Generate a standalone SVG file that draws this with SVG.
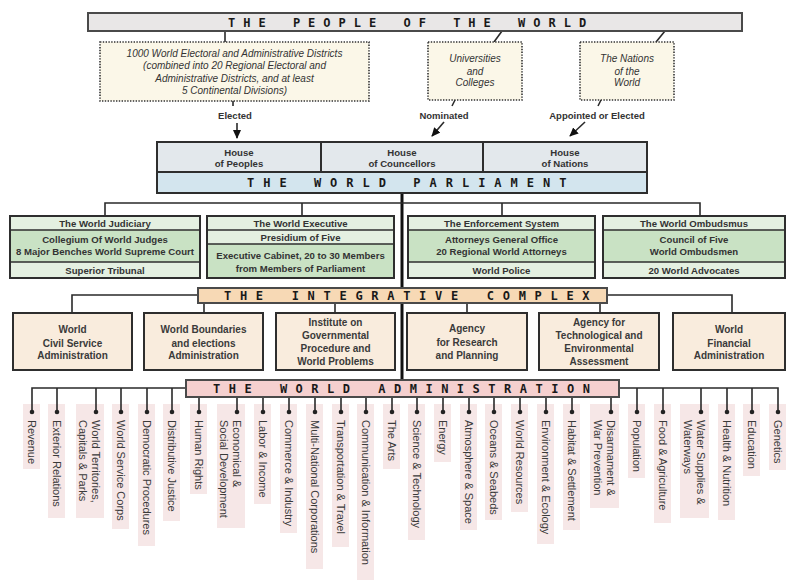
<svg xmlns="http://www.w3.org/2000/svg" width="788" height="580" viewBox="0 0 788 580">
<style>
.bar{stroke:#4a4a4a;stroke-width:2}
.bt{font-family:"DejaVu Sans Mono",monospace;font-weight:bold;font-size:12px;fill:#1a1a1a;letter-spacing:8px;word-spacing:4px}
.dot{fill:#fbf7e8;stroke:#333;stroke-width:1.6;stroke-dasharray:1.4 1.4}
.it{font-family:"Liberation Sans",Arial,sans-serif;font-style:italic;font-size:10px;fill:#333;text-anchor:middle}
.lab{font-family:"Liberation Sans",Arial,sans-serif;font-weight:bold;font-size:9.5px;fill:#333;text-anchor:middle}
.box{stroke:#2e2e2e;stroke-width:2;fill:none}
.bx{font-family:"Liberation Sans",Arial,sans-serif;font-weight:bold;font-size:9.6px;fill:#333;text-anchor:middle}
.ix{font-family:"Liberation Sans",Arial,sans-serif;font-weight:bold;font-size:10px;fill:#3a3a3a;text-anchor:middle}
.ln{stroke:#2a2a2a;stroke-width:1.6;fill:none}
.sep{stroke:#2e2e2e;stroke-width:1.3}
.gl{fill:#e4f0e1}
.gd{fill:#c9e2c4}
.ib{fill:#f9ecdd}
.item{font-family:"Liberation Sans",Arial,sans-serif;font-size:11px;fill:#3a3a3a}
.ibg{fill:#f6e7e7}
.dt{fill:#222}
</style>
<defs>
<marker id="ah" viewBox="0 0 10 10" refX="9" refY="5" markerWidth="9" markerHeight="9" markerUnits="userSpaceOnUse" orient="auto"><path d="M0,0.5 L10,5 L0,9.5 z" fill="#111"/></marker>
</defs>
<rect width="788" height="580" fill="#fff"/>

<!-- item backgrounds -->
<g id="item-backgrounds" class="ibg">
<rect x="23" y="404" width="17" height="65"/>
<rect x="48" y="404" width="17" height="114"/>
<rect x="76" y="404" width="28" height="114"/>
<rect x="112" y="404" width="17" height="125"/>
<rect x="138" y="404" width="17" height="142"/>
<rect x="163" y="404" width="17" height="117"/>
<rect x="190" y="404" width="17" height="90"/>
<rect x="217" y="404" width="28" height="124"/>
<rect x="254" y="404" width="17" height="100"/>
<rect x="280" y="404" width="17" height="129"/>
<rect x="306" y="404" width="17" height="165"/>
<rect x="332" y="404" width="17" height="143"/>
<rect x="357" y="404" width="17" height="176"/>
<rect x="383" y="404" width="17" height="65"/>
<rect x="408" y="404" width="17" height="136"/>
<rect x="434" y="404" width="17" height="58"/>
<rect x="460" y="404" width="17" height="126"/>
<rect x="485" y="404" width="17" height="116"/>
<rect x="511" y="404" width="17" height="108"/>
<rect x="537" y="404" width="17" height="140"/>
<rect x="563" y="404" width="17" height="126"/>
<rect x="590" y="404" width="29" height="104"/>
<rect x="628" y="404" width="17" height="74"/>
<rect x="654" y="404" width="17" height="119"/>
<rect x="680" y="404" width="29" height="114"/>
<rect x="718" y="404" width="17" height="116"/>
<rect x="743" y="404" width="17" height="72"/>
<rect x="769" y="404" width="17" height="66"/>
</g>

<g id="connectors">
<line x1="402" y1="193" x2="402" y2="381" stroke="#111" stroke-width="3"/>
<line class="ln" x1="225" y1="31" x2="225" y2="42"/>
<line class="ln" x1="502" y1="31" x2="494" y2="42"/>
<line class="ln" x1="665" y1="31" x2="656" y2="42"/>
<line class="ln" x1="233" y1="101" x2="233" y2="106"/>
<line class="ln" x1="455" y1="100" x2="452" y2="106"/>
<line class="ln" x1="601" y1="100" x2="598" y2="106"/>
<line class="ln" stroke-width="2" x1="237" y1="123" x2="237" y2="138" marker-end="url(#ah)"/>
<line class="ln" stroke-width="2" x1="444" y1="122" x2="432" y2="136" marker-end="url(#ah)"/>
<line class="ln" stroke-width="2" x1="585" y1="122" x2="570" y2="136" marker-end="url(#ah)"/>
<path class="ln" d="M105,216 V203 H700 V216 M302,203 V216 M502,203 V216"/>
<path class="ln" d="M72,313 V295 H198 M607,295 H732 V313 M204,303 V313 M335,303 V313 M467,303 V313 M600,303 V313"/>
<path class="ln" d="M32,412 V388 H186 M619,388 H778 V412 M57,388 V412 M96,388 V412 M121,388 V412 M147,388 V412 M172,388 V412 M637,388 V412 M663,388 V412 M701,388 V412 M727,388 V412 M752,388 V412"/>
<path class="ln" d="M199,397 V412 M237,397 V412 M263,397 V412 M289,397 V412 M315,397 V412 M341,397 V412 M366,397 V412 M392,397 V412 M417,397 V412 M443,397 V412 M469,397 V412 M494,397 V412 M520,397 V412 M546,397 V412 M572,397 V412 M611,397 V412"/>
</g>

<g id="people-of-the-world">
<rect class="bar" x="88" y="13" width="654" height="18" fill="#e9e7e7"/>
<text class="bt" x="228" y="26.5">THE PEOPLE OF THE WORLD</text>
</g>

<g id="districts">
<rect class="dot" x="100" y="42" width="269" height="59"/>
<text class="it" x="234.5" y="56.5">1000 World Electoral and Administrative Districts</text>
<text class="it" x="234.5" y="69">(combined into 20 Regional Electoral and</text>
<text class="it" x="234.5" y="81.5">Administrative Districts, and at least</text>
<text class="it" x="234.5" y="93.5">5 Continental Divisions)</text>
</g>
<g id="universities">
<rect class="dot" x="428" y="42" width="94" height="58"/>
<text class="it" x="475" y="61.5">Universities</text>
<text class="it" x="475" y="74.5">and</text>
<text class="it" x="475" y="86">Colleges</text>
</g>
<g id="nations">
<rect class="dot" x="580" y="42" width="94" height="58"/>
<text class="it" x="627" y="61.5">The Nations</text>
<text class="it" x="627" y="74.5">of the</text>
<text class="it" x="627" y="86">World</text>
</g>
<g id="labels">
<text class="lab" x="235" y="118.5">Elected</text>
<text class="lab" x="444" y="118.5">Nominated</text>
<text class="lab" x="597" y="118.5">Appointed or Elected</text>
</g>

<g id="world-parliament">
<rect x="157" y="142" width="164" height="30" fill="#e3e8ec"/>
<rect x="321" y="142" width="162" height="30" fill="#e3e8ec"/>
<rect x="483" y="142" width="164" height="30" fill="#e3e8ec"/>
<rect x="157" y="172" width="490" height="21" fill="#d3e5ee"/>
<rect class="box" x="157" y="142" width="490" height="51"/>
<line class="box" x1="157" y1="172" x2="647" y2="172"/>
<line class="box" x1="321" y1="142" x2="321" y2="172"/>
<line class="box" x1="483" y1="142" x2="483" y2="172"/>
<text class="bx" x="239" y="155.5">House</text>
<text class="bx" x="239" y="167">of Peoples</text>
<text class="bx" x="402" y="155.5">House</text>
<text class="bx" x="402" y="167">of Councellors</text>
<text class="bx" x="565" y="155.5">House</text>
<text class="bx" x="565" y="167">of Nations</text>
<text class="bt" x="247" y="187" style="letter-spacing:9px;word-spacing:2px">THE WORLD PARLIAMENT</text>
</g>

<g id="judiciary">
<rect class="gl" x="10" y="216" width="190" height="14"/>
<rect class="gd" x="10" y="230" width="190" height="32"/>
<rect class="gl" x="10" y="262" width="190" height="16"/>
<rect class="box" x="10" y="216" width="190" height="62"/>
<line class="sep" x1="10" y1="230" x2="200" y2="230"/>
<line class="sep" x1="10" y1="262" x2="200" y2="262"/>
<text class="bx" x="105" y="226.5">The World Judiciary</text>
<text class="bx" x="105" y="242.5">Collegium Of World Judges</text>
<text class="bx" x="105" y="255">8 Major Benches World Supreme Court</text>
<text class="bx" x="105" y="273.5">Superior Tribunal</text>
</g>
<g id="executive">
<rect class="gl" x="207" y="216" width="187" height="28"/>
<rect class="gd" x="207" y="244" width="187" height="34"/>
<rect class="box" x="207" y="216" width="187" height="62"/>
<line class="sep" x1="207" y1="230" x2="394" y2="230"/>
<line class="sep" x1="207" y1="244" x2="394" y2="244"/>
<text class="bx" x="300.5" y="226.5">The World Executive</text>
<text class="bx" x="300.5" y="240.5">Presidium of Five</text>
<text class="bx" x="300.5" y="258.5">Executive Cabinet, 20 to 30 Members</text>
<text class="bx" x="300.5" y="271.5">from Members of Parliament</text>
</g>
<g id="enforcement">
<rect class="gl" x="408" y="216" width="187" height="14"/>
<rect class="gd" x="408" y="230" width="187" height="32"/>
<rect class="gl" x="408" y="262" width="187" height="16"/>
<rect class="box" x="408" y="216" width="187" height="62"/>
<line class="sep" x1="408" y1="230" x2="595" y2="230"/>
<line class="sep" x1="408" y1="262" x2="595" y2="262"/>
<text class="bx" x="501.5" y="226.5">The Enforcement System</text>
<text class="bx" x="501.5" y="242.5">Attorneys General Office</text>
<text class="bx" x="501.5" y="255">20 Regional World Attorneys</text>
<text class="bx" x="501.5" y="273.5">World Police</text>
</g>
<g id="ombudsmus">
<rect class="gl" x="603" y="216" width="182" height="14"/>
<rect class="gd" x="603" y="230" width="182" height="32"/>
<rect class="gl" x="603" y="262" width="182" height="16"/>
<rect class="box" x="603" y="216" width="182" height="62"/>
<line class="sep" x1="603" y1="230" x2="785" y2="230"/>
<line class="sep" x1="603" y1="262" x2="785" y2="262"/>
<text class="bx" x="694" y="226.5">The World Ombudsmus</text>
<text class="bx" x="694" y="242.5">Council of Five</text>
<text class="bx" x="694" y="255">World Ombudsmen</text>
<text class="bx" x="694" y="273.5">20 World Advocates</text>
</g>

<g id="integrative-complex">
<rect class="bar" x="198" y="288" width="409" height="15" fill="#f7d9b5" stroke="#333"/>
<text class="bt" x="224" y="300" style="letter-spacing:8.7px">THE INTEGRATIVE COMPLEX</text>
</g>
<g id="civil-service">
<rect class="box ib" x="13" y="313" width="119" height="57"/>
<text class="ix" x="72.5" y="332.5">World</text>
<text class="ix" x="72.5" y="346.5">Civil Service</text>
<text class="ix" x="72.5" y="359">Administration</text>
</g>
<g id="boundaries">
<rect class="box ib" x="144" y="313" width="119" height="57"/>
<text class="ix" x="203.5" y="332.5">World Boundaries</text>
<text class="ix" x="203.5" y="346.5">and elections</text>
<text class="ix" x="203.5" y="359">Administration</text>
</g>
<g id="institute">
<rect class="box ib" x="276" y="313" width="119" height="57"/>
<text class="ix" x="335.5" y="326">Institute on</text>
<text class="ix" x="335.5" y="338.5">Governmental</text>
<text class="ix" x="335.5" y="351.5">Procedure and</text>
<text class="ix" x="335.5" y="365">World Problems</text>
</g>
<g id="research">
<rect class="box ib" x="407" y="313" width="120" height="57"/>
<text class="ix" x="467" y="332">Agency</text>
<text class="ix" x="467" y="345.5">for Research</text>
<text class="ix" x="467" y="358.5">and Planning</text>
</g>
<g id="technological">
<rect class="box ib" x="539" y="313" width="120" height="57"/>
<text class="ix" x="599" y="326">Agency for</text>
<text class="ix" x="599" y="338.5">Technological and</text>
<text class="ix" x="599" y="351.5">Environmental</text>
<text class="ix" x="599" y="365">Assessment</text>
</g>
<g id="financial">
<rect class="box ib" x="673" y="313" width="112" height="57"/>
<text class="ix" x="729" y="332.5">World</text>
<text class="ix" x="729" y="346.5">Financial</text>
<text class="ix" x="729" y="359">Administration</text>
</g>

<g id="world-administration">
<rect class="bar" x="186" y="380" width="433" height="17" fill="#f5d0cf" stroke="#333"/>
<text class="bt" x="213" y="393" style="letter-spacing:8.5px">THE WORLD ADMINISTRATION</text>
</g>

<g id="admin-items">
<g class="dt">
<circle cx="32" cy="412" r="2.3"/><circle cx="57" cy="412" r="2.3"/><circle cx="96" cy="412" r="2.3"/><circle cx="121" cy="412" r="2.3"/><circle cx="147" cy="412" r="2.3"/><circle cx="172" cy="412" r="2.3"/><circle cx="199" cy="412" r="2.3"/><circle cx="237" cy="412" r="2.3"/><circle cx="263" cy="412" r="2.3"/><circle cx="289" cy="412" r="2.3"/><circle cx="315" cy="412" r="2.3"/><circle cx="341" cy="412" r="2.3"/><circle cx="366" cy="412" r="2.3"/><circle cx="392" cy="412" r="2.3"/><circle cx="417" cy="412" r="2.3"/><circle cx="443" cy="412" r="2.3"/><circle cx="469" cy="412" r="2.3"/><circle cx="494" cy="412" r="2.3"/><circle cx="520" cy="412" r="2.3"/><circle cx="546" cy="412" r="2.3"/><circle cx="572" cy="412" r="2.3"/><circle cx="611" cy="412" r="2.3"/><circle cx="637" cy="412" r="2.3"/><circle cx="663" cy="412" r="2.3"/><circle cx="701" cy="412" r="2.3"/><circle cx="727" cy="412" r="2.3"/><circle cx="752" cy="412" r="2.3"/><circle cx="778" cy="412" r="2.3"/>
</g>
<g id="revenue" transform="translate(32,420) rotate(90)"><text class="item" y="4">Revenue</text></g>
<g id="exterior" transform="translate(57,420) rotate(90)"><text class="item" y="4">Exterior Relations</text></g>
<g id="territories" transform="translate(96,420) rotate(90)"><text class="item" y="4">World Territories,</text><text class="item" y="17">Capitals &amp; Parks</text></g>
<g id="service-corps" transform="translate(121,420) rotate(90)"><text class="item" y="4">World Service Corps</text></g>
<g id="democratic" transform="translate(147,420) rotate(90)"><text class="item" y="4">Democratic Procedures</text></g>
<g id="distributive" transform="translate(172,420) rotate(90)"><text class="item" y="4">Distributive Justice</text></g>
<g id="human-rights" transform="translate(199,420) rotate(90)"><text class="item" y="4">Human Rights</text></g>
<g id="economical" transform="translate(237,420) rotate(90)"><text class="item" y="4">Economical &amp;</text><text class="item" y="17">Social Development</text></g>
<g id="labor" transform="translate(263,420) rotate(90)"><text class="item" y="4">Labor &amp; Income</text></g>
<g id="commerce" transform="translate(289,420) rotate(90)"><text class="item" y="4">Commerce &amp; Industry</text></g>
<g id="multinational" transform="translate(315,420) rotate(90)"><text class="item" y="4">Multi-National Corporations</text></g>
<g id="transportation" transform="translate(341,420) rotate(90)"><text class="item" y="4">Transportation &amp; Travel</text></g>
<g id="communication" transform="translate(366,420) rotate(90)"><text class="item" y="4">Communication &amp; Information</text></g>
<g id="arts" transform="translate(392,420) rotate(90)"><text class="item" y="4">The Arts</text></g>
<g id="science" transform="translate(417,420) rotate(90)"><text class="item" y="4">Science &amp; Technology</text></g>
<g id="energy" transform="translate(443,420) rotate(90)"><text class="item" y="4">Energy</text></g>
<g id="atmosphere" transform="translate(469,420) rotate(90)"><text class="item" y="4">Atmosphere &amp; Space</text></g>
<g id="oceans" transform="translate(494,420) rotate(90)"><text class="item" y="4">Oceans &amp; Seabeds</text></g>
<g id="resources" transform="translate(520,420) rotate(90)"><text class="item" y="4">World Resources</text></g>
<g id="environment" transform="translate(546,420) rotate(90)"><text class="item" y="4">Environment &amp; Ecology</text></g>
<g id="habitat" transform="translate(572,420) rotate(90)"><text class="item" y="4">Habitat &amp; Settlement</text></g>
<g id="disarmament" transform="translate(611,420) rotate(90)"><text class="item" y="4">Disarmament &amp;</text><text class="item" y="17">War Prevention</text></g>
<g id="population" transform="translate(637,420) rotate(90)"><text class="item" y="4">Population</text></g>
<g id="food" transform="translate(663,420) rotate(90)"><text class="item" y="4">Food &amp; Agriculture</text></g>
<g id="water" transform="translate(701,420) rotate(90)"><text class="item" y="4">Water Supplies &amp;</text><text class="item" y="17">Waterways</text></g>
<g id="health" transform="translate(727,420) rotate(90)"><text class="item" y="4">Health &amp; Nutrition</text></g>
<g id="education" transform="translate(752,420) rotate(90)"><text class="item" y="4">Education</text></g>
<g id="genetics" transform="translate(778,420) rotate(90)"><text class="item" y="4">Genetics</text></g>
</g>
</svg>
